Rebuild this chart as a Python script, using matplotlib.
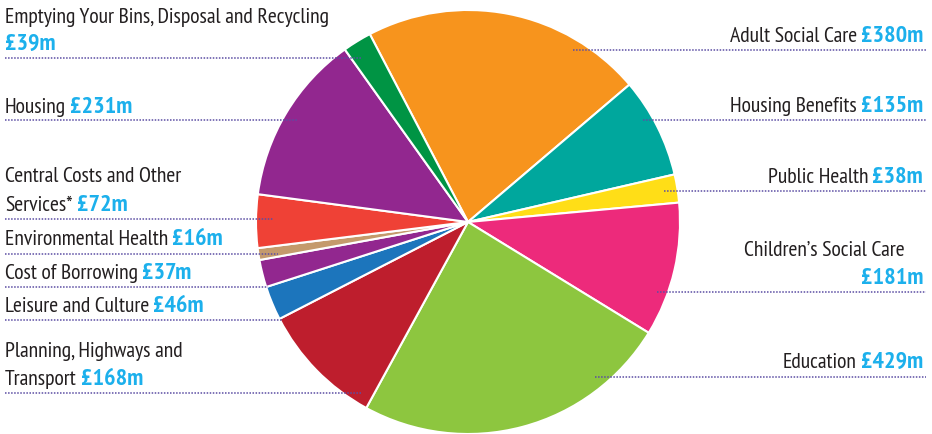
import matplotlib
matplotlib.use('Agg')
import matplotlib.pyplot as plt

categories = ["Adult Social Care", "Housing Benefits", "Public Health",
              "Children\u2019s Social Care", "Education",
              "Planning, Highways and Transport", "Leisure and Culture",
              "Cost of Borrowing", "Environmental Health",
              "Central Costs and Other Services*", "Housing",
              "Emptying Your Bins, Disposal and Recycling"]
values = [380, 135, 38, 181, 429, 168, 46, 37, 16, 72, 231, 39]
value_labels = ["\u00a3%dm" % v for v in values]
colors = ["#F7941D", "#00A79D", "#FFDE17", "#ED2A7B", "#8DC63F", "#BE1E2D",
          "#1C75BC", "#92278F", "#C49A6C", "#EF4136", "#92278F", "#009444"]

# layout: (side, label lines (value appended to last), baselines px, leader y px, leader inner x)
layout = {
    "Adult Social Care": ("R", ["Adult Social Care"], [42], 50, 573),
    "Housing Benefits": ("R", ["Housing Benefits"], [112], 120, 643),
    "Public Health": ("R", ["Public Health"], [183], 191, 664),
    "Children\u2019s Social Care": ("R", ["Children\u2019s Social Care", ""], [256, 284], 292, 657),
    "Education": ("R", ["Education"], [368], 377, 595),
    "Planning, Highways and Transport": ("L", ["Planning, Highways and", "Transport"], [357, 385], 393, 362),
    "Leisure and Culture": ("L", ["Leisure and Culture"], [312], 320, 283),
    "Cost of Borrowing": ("L", ["Cost of Borrowing"], [279], 287, 268),
    "Environmental Health": ("L", ["Environmental Health"], [245], 254, 278),
    "Central Costs and Other Services*": ("L", ["Central Costs and Other", "Services*"], [182, 211], 219, 273),
    "Housing": ("L", ["Housing"], [113], 120, 297),
    "Emptying Your Bins, Disposal and Recycling": ("L", ["Emptying Your Bins, Disposal and Recycling", ""], [23, 50], 58, 362),
}

fam = ["PT Sans Narrow", "DejaVu Sans"]

W, H = 932, 434
fig = plt.figure(figsize=(W / 100, H / 100), dpi=100)
ax = fig.add_axes([0, 0, 1, 1])
ax.pie(values, colors=colors, startangle=117.6, counterclock=False,
       center=(468, H - 222), radius=212,
       wedgeprops=dict(edgecolor="white", linewidth=1.5))
ax.set_xlim(0, W)
ax.set_ylim(0, H)
ax.set_aspect("auto")
ax.axis("off")

fig.canvas.draw()
renderer = fig.canvas.get_renderer()

# calibrate font sizes to the reference text widths
probe = ax.text(0, 0, "Emptying Your Bins, Disposal and Recycling", fontsize=14, family=fam)
LFS = 14 * 328.0 / probe.get_window_extent(renderer).width
probe.remove()
probe = ax.text(0, 0, "\u00a3380m", fontsize=15, family=fam, weight="bold")
VFS = 15 * 62.0 / probe.get_window_extent(renderer).width
probe.remove()

TXT = "#231F20"
VAL = "#1CB0EC"
DOT = "#5B4DA3"
XL, XR = 5, 923
GAP = 4

for cat, val in zip(categories, value_labels):
    side, lines, bases, ly, lx = layout[cat]
    for i, (ln, b) in enumerate(zip(lines, bases)):
        last = i == len(lines) - 1
        y = H - b
        if side == "L":
            if ln:
                t = ax.text(XL, y, ln, ha="left", va="baseline", fontsize=LFS,
                            family=fam, color=TXT)
                w = t.get_window_extent(renderer).width
                xv = XL + w + GAP
            else:
                xv = XL
            if last:
                ax.text(xv, y, val, ha="left", va="baseline", fontsize=VFS,
                        family=fam, weight="bold", color=VAL)
        else:
            if last:
                tv = ax.text(XR, y, val, ha="right", va="baseline", fontsize=VFS,
                             family=fam, weight="bold", color=VAL)
                wv = tv.get_window_extent(renderer).width
                if ln:
                    ax.text(XR - wv - GAP, y, ln, ha="right", va="baseline",
                            fontsize=LFS, family=fam, color=TXT)
            else:
                ax.text(XR - 18, y, ln, ha="right", va="baseline", fontsize=LFS,
                        family=fam, color=TXT)
    yy = H - ly
    if side == "L":
        xs = [XL, lx]
    else:
        xs = [lx, XR + 3]
    ax.plot(xs, [yy, yy], color=DOT, lw=1.1, linestyle=(0, (1, 1)), zorder=5,
            solid_capstyle="butt", dash_capstyle="butt")

fig.savefig("out.png", dpi=100)
